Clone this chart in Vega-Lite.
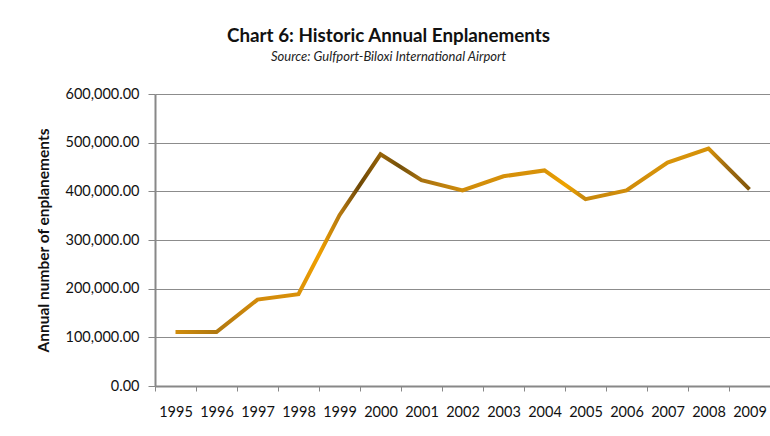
{
  "$schema": "https://vega.github.io/schema/vega-lite/v6.json",
  "width": 615,
  "height": 292,
  "autosize": {"type": "none"},
  "padding": {"left": 155, "top": 94, "right": 0, "bottom": 50},
  "background": "white",
  "title": {
    "text": "Chart 6: Historic Annual Enplanements",
    "subtitle": "Source: Gulfport-Biloxi International Airport",
    "anchor": "middle",
    "frame": "group",
    "dx": -74,
    "offset": 22,
    "font": "Lato",
    "fontSize": 18.8,
    "fontWeight": "bold",
    "color": "#111111",
    "subtitleFont": "Lato",
    "subtitleFontSize": 13,
    "subtitleFontStyle": "italic",
    "subtitleColor": "#222222",
    "subtitlePadding": 5
  },
  "config": {
    "view": {"stroke": null},
    "axis": {
      "labelFont": "Lato",
      "labelFontSize": 14.5,
      "labelColor": "#111111",
      "titleFont": "Lato",
      "titleColor": "#111111",
      "domainColor": "#888888",
      "tickColor": "#888888",
      "gridColor": "#8c8c8c"
    }
  },
  "data": {
    "values": [
      {"year": "1995", "enplanements": 111000},
      {"year": "1996", "enplanements": 111000},
      {"year": "1997", "enplanements": 177500},
      {"year": "1998", "enplanements": 188500},
      {"year": "1999", "enplanements": 351000},
      {"year": "2000", "enplanements": 476000},
      {"year": "2001", "enplanements": 423000},
      {"year": "2002", "enplanements": 402000},
      {"year": "2003", "enplanements": 431000},
      {"year": "2004", "enplanements": 443000},
      {"year": "2005", "enplanements": 384000},
      {"year": "2006", "enplanements": 402000},
      {"year": "2007", "enplanements": 459000},
      {"year": "2008", "enplanements": 488000},
      {"year": "2009", "enplanements": 404000}
    ]
  },
  "mark": {
    "type": "line",
    "strokeWidth": 4,
    "strokeCap": "butt",
    "stroke": {
      "gradient": "linear",
      "x1": 0, "y1": 0, "x2": 1, "y2": 0,
      "stops": [
        {"offset": 0, "color": "#D08C0C"},
        {"offset": 0.07, "color": "#B07810"},
        {"offset": 0.14, "color": "#D28A0A"},
        {"offset": 0.21, "color": "#D8900A"},
        {"offset": 0.25, "color": "#F0A000"},
        {"offset": 0.29, "color": "#B07510"},
        {"offset": 0.32, "color": "#6E4806"},
        {"offset": 0.36, "color": "#986408"},
        {"offset": 0.39, "color": "#74500A"},
        {"offset": 0.43, "color": "#A87210"},
        {"offset": 0.5, "color": "#D08C0A"},
        {"offset": 0.57, "color": "#D6900A"},
        {"offset": 0.64, "color": "#D89208"},
        {"offset": 0.68, "color": "#F0A400"},
        {"offset": 0.71, "color": "#C8880C"},
        {"offset": 0.79, "color": "#D08C0A"},
        {"offset": 0.86, "color": "#D8940A"},
        {"offset": 0.93, "color": "#D49008"},
        {"offset": 0.96, "color": "#A06C10"},
        {"offset": 1, "color": "#82560A"}
      ]
    }
  },
  "encoding": {
    "x": {
      "field": "year",
      "type": "ordinal",
      "bandPosition": 0.5,
      "scale": {"type": "band", "paddingInner": 0, "paddingOuter": 0},
      "axis": {
        "title": null,
        "labelAngle": 0,
        "tickBand": "extent",
        "domainWidth": 2,
        "tickWidth": 1,
        "tickSize": 5,
        "labelPadding": 14,
        "grid": false
      }
    },
    "y": {
      "field": "enplanements",
      "type": "quantitative",
      "scale": {"domain": [0, 600000], "nice": false},
      "axis": {
        "values": [0, 100000, 200000, 300000, 400000, 500000, 600000],
        "format": ",.2f",
        "title": "Annual number of enplanements",
        "titleFontSize": 15.5,
        "titleFontWeight": "bold",
        "titlePadding": 14,
        "domainWidth": 2,
        "tickSize": 7,
        "tickWidth": 1,
        "labelPadding": 9,
        "grid": true,
        "gridWidth": 1.2
      }
    }
  }
}
